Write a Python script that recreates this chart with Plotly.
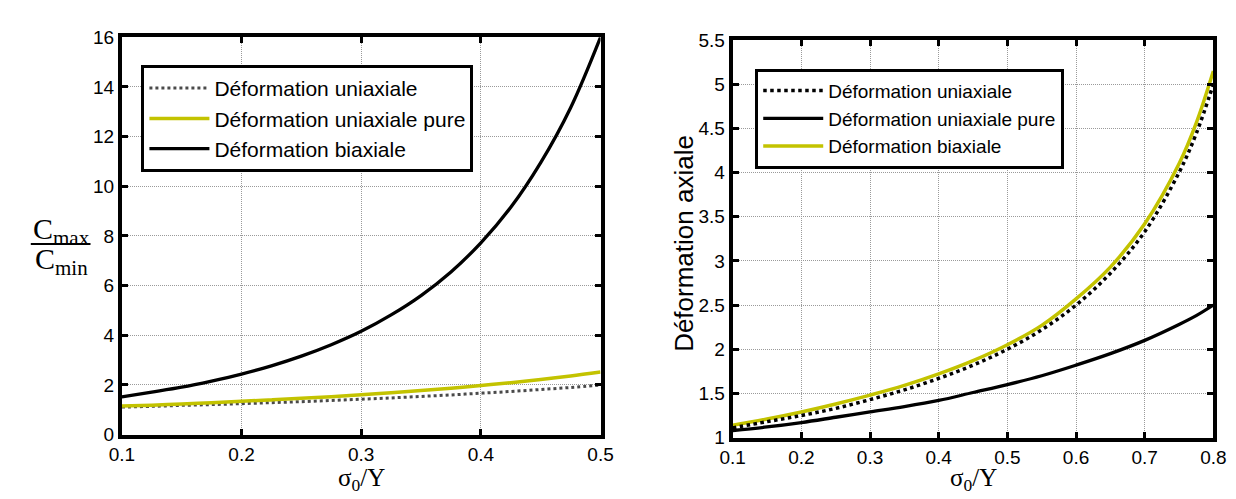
import plotly.graph_objects as go

# ---------------- data ----------------
# Left panel: Cmax/Cmin vs sigma0/Y
x_left = [0.1, 0.125, 0.15, 0.175, 0.2, 0.225, 0.25, 0.275, 0.3, 0.325, 0.35,
          0.375, 0.4, 0.425, 0.45, 0.475, 0.5]
left_uniaxiale = [1.11, 1.14, 1.18, 1.21, 1.25, 1.29, 1.33, 1.38, 1.43, 1.48, 1.54,
                  1.60, 1.67, 1.74, 1.82, 1.90, 2.00]
left_uniaxiale_pure = [1.15, 1.19, 1.24, 1.29, 1.35, 1.40, 1.47, 1.53, 1.61, 1.69, 1.78,
                       1.87, 1.98, 2.09, 2.22, 2.36, 2.52]
left_biaxiale = [1.52, 1.71, 1.91, 2.16, 2.44, 2.77, 3.16, 3.62, 4.16, 4.82, 5.60,
                 6.55, 7.72, 9.15, 10.95, 13.16, 16.0]

# Right panel: axial deformation vs sigma0/Y
x_right = [0.1, 0.15, 0.2, 0.25, 0.3, 0.35, 0.4, 0.45, 0.5, 0.55, 0.6, 0.65,
           0.7, 0.75, 0.775, 0.8]
right_uniaxiale = [1.11, 1.18, 1.25, 1.33, 1.43, 1.54, 1.67, 1.82, 2.00, 2.22, 2.50,
                   2.86, 3.33, 4.00, 4.44, 5.00]
right_uniaxiale_pure = [1.08, 1.12, 1.17, 1.23, 1.29, 1.35, 1.42, 1.51, 1.60, 1.70, 1.82,
                        1.95, 2.10, 2.28, 2.38, 2.50]
right_biaxiale = [1.14, 1.21, 1.29, 1.38, 1.48, 1.59, 1.72, 1.87, 2.05, 2.27, 2.57,
                  2.93, 3.42, 4.10, 4.56, 5.15]

left_xticks = [0.1, 0.2, 0.3, 0.4, 0.5]
left_yticks = [0, 2, 4, 6, 8, 10, 12, 14, 16]
right_xticks = [0.1, 0.2, 0.3, 0.4, 0.5, 0.6, 0.7, 0.8]
right_yticks = [1, 1.5, 2, 2.5, 3, 3.5, 4, 4.5, 5, 5.5]

names = ["Déformation uniaxiale", "Déformation uniaxiale pure", "Déformation biaxiale"]

YELLOW = "#c3c300"
W, H = 1236, 499

fig = go.Figure()

# Left panel traces
fig.add_trace(go.Scatter(x=x_left, y=left_uniaxiale, name=names[0], mode="lines",
                         line=dict(color="#4a4a4a", width=3, dash="dot", shape="spline"),
                         xaxis="x", yaxis="y", legend="legend"))
fig.add_trace(go.Scatter(x=x_left, y=left_uniaxiale_pure, name=names[1], mode="lines",
                         line=dict(color=YELLOW, width=3.5, shape="spline"),
                         xaxis="x", yaxis="y", legend="legend"))
fig.add_trace(go.Scatter(x=x_left, y=left_biaxiale, name=names[2], mode="lines",
                         line=dict(color="black", width=3.3, shape="spline"),
                         xaxis="x", yaxis="y", legend="legend"))

# Right panel traces
fig.add_trace(go.Scatter(x=x_right, y=right_uniaxiale_pure, name=names[1], mode="lines",
                         line=dict(color="black", width=3.3, shape="spline"),
                         xaxis="x2", yaxis="y2", legend="legend2", legendrank=2))
fig.add_trace(go.Scatter(x=x_right, y=right_biaxiale, name=names[2], mode="lines",
                         line=dict(color=YELLOW, width=3.5, shape="spline"),
                         xaxis="x2", yaxis="y2", legend="legend2", legendrank=3))
fig.add_trace(go.Scatter(x=x_right, y=right_uniaxiale, name=names[0], mode="lines",
                         line=dict(color="black", width=3.5, dash="dot", shape="spline"),
                         xaxis="x2", yaxis="y2", legend="legend2", legendrank=1))

tickfont = dict(family="Liberation Sans, Arial, sans-serif", size=19, color="black")
axis_common = dict(showline=True, linewidth=4, linecolor="black", mirror="allticks",
                   ticks="inside", ticklen=6, tickwidth=2.5, tickcolor="black",
                   showgrid=True, gridcolor="#9a9a9a", gridwidth=1, griddash="1px,1px",
                   zeroline=False, tickfont=tickfont)

fig.update_layout(
    width=W, height=H,
    margin=dict(l=0, r=0, t=0, b=0),
    paper_bgcolor="white", plot_bgcolor="white",
    xaxis=dict(domain=[103 / W, 592 / W], range=[0.1, 0.5], anchor="y",
               tickvals=left_xticks, ticktext=[f"{v:g}" for v in left_xticks],
               ticklabelstandoff=0, **axis_common),
    yaxis=dict(domain=[1 - 435 / H, 1 - 20 / H], range=[0, 16], anchor="x",
               tickvals=left_yticks, ticktext=[f"{v:g}" for v in left_yticks],
               **axis_common),
    xaxis2=dict(domain=[727 / W, 1218 / W], range=[0.1, 0.8], anchor="y2",
                tickvals=right_xticks, ticktext=[f"{v:g}" for v in right_xticks],
                ticklabelstandoff=0, **axis_common),
    yaxis2=dict(domain=[1 - 438 / H, 1 - 23 / H], range=[1, 5.5], anchor="x2",
                tickvals=right_yticks, ticktext=[f"{v:g}" for v in right_yticks],
                **axis_common),
    legend=dict(x=123 / W, y=1 - 49 / H, xanchor="left", yanchor="top",
                bgcolor="white", bordercolor="black", borderwidth=3,
                font=dict(family="Liberation Sans, Arial, sans-serif", size=21, color="black"),
                itemwidth=60, tracegroupgap=0, traceorder="normal"),
    legend2=dict(x=750 / W, y=1 - 53 / H, xanchor="left", yanchor="top",
                 bgcolor="white", bordercolor="black", borderwidth=3,
                 font=dict(family="Liberation Sans, Arial, sans-serif", size=19, color="black"),
                 itemwidth=60, tracegroupgap=0, traceorder="normal"),
    showlegend=True,
)

serif = "Liberation Serif, DejaVu Serif, serif"
# Left y title: fraction Cmax / Cmin
fig.add_annotation(text="C<sub>max</sub>", xref="paper", yref="paper",
                   x=41 / W, y=1 - 222 / H, xanchor="center", yanchor="middle",
                   showarrow=False, font=dict(family=serif, size=30, color="black"))
fig.add_shape(type="line", xref="paper", yref="paper",
              x0=10 / W, x1=71 / W, y0=1 - 236 / H, y1=1 - 236 / H,
              line=dict(color="black", width=2))
fig.add_annotation(text="C<sub>min</sub>", xref="paper", yref="paper",
                   x=41 / W, y=1 - 254 / H, xanchor="center", yanchor="middle",
                   showarrow=False, font=dict(family=serif, size=30, color="black"))

# Right y title
fig.add_annotation(text="Déformation axiale", xref="paper", yref="paper",
                   x=677 / W, y=1 - 235 / H, xanchor="center", yanchor="middle",
                   textangle=-90, showarrow=False,
                   font=dict(family="Liberation Sans, Arial, sans-serif", size=26, color="black"))

# X titles
for cx in [(103 + 592) / 2, (727 + 1218) / 2]:
    fig.add_annotation(text="σ<sub>0</sub>/Y", xref="paper", yref="paper",
                       x=cx / W, y=1 - 499 / H, xanchor="center", yanchor="bottom",
                       showarrow=False, borderpad=0,
                       font=dict(family=serif, size=25, color="black"))

fig.write_html("out.html")
